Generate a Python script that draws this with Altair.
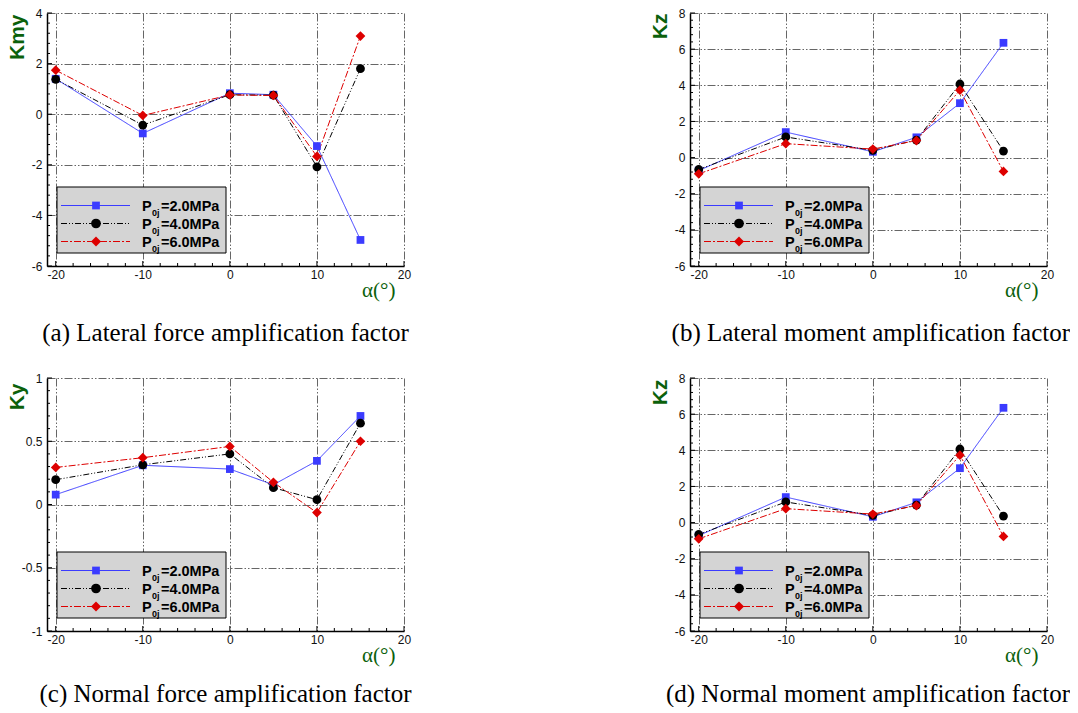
import altair as alt
import numpy as np
import pandas as pd

# Angle of attack (deg) and nozzle pressure cases
alpha = [-20, -10, 0, 5, 10, 15]
series = ["2.0MPa", "4.0MPa", "6.0MPa"]

# Lateral force amplification factor Kmy
kmy_p2 = [1.40, -0.76, 0.83, 0.77, -1.26, -4.97]
kmy_p4 = [1.38, -0.43, 0.77, 0.75, -2.08, 1.80]
kmy_p6 = [1.74, -0.05, 0.76, 0.74, -1.67, 3.09]

# Moment amplification factor Kz
kz_p2 = [-0.72, 1.41, 0.32, 1.12, 3.01, 6.35]
kz_p4 = [-0.66, 1.14, 0.40, 0.97, 4.07, 0.36]
kz_p6 = [-0.90, 0.77, 0.47, 0.94, 3.73, -0.77]

# Normal force amplification factor Ky
ky_p2 = [0.078, 0.31, 0.28, 0.156, 0.345, 0.70]
ky_p4 = [0.196, 0.314, 0.40, 0.133, 0.038, 0.643]
ky_p6 = [0.293, 0.37, 0.459, 0.175, -0.064, 0.50]

x_major = [-20, -10, 0, 10, 20]
kmy_major = [-6, -4, -2, 0, 2, 4]
kz_major = [-6, -4, -2, 0, 2, 4, 6, 8]
ky_major = [-1, -0.5, 0, 0.5, 1]

captions = [
    "(a) Lateral force amplification factor",
    "(b) Lateral moment amplification factor",
    "(c) Normal force amplification factor",
    "(d) Normal moment amplification factor",
]

W, H = 357, 253
GREEN = "#0b610b"
COLORS = ["#3b3bff", "#000000", "#dd0000"]
DASHES = [[1, 0], [6, 2, 1, 2, 1, 2], [7, 2, 2, 2]]
SHAPES = ["square", "circle", "diamond"]
SIZES = [60, 95, 100]
GRID_DASH = [8, 2, 1.5, 2, 1.5, 2]

color_scale = alt.Scale(domain=series, range=COLORS)
dash_scale = alt.Scale(domain=series, range=DASHES)
shape_scale = alt.Scale(domain=series, range=SHAPES)
size_scale = alt.Scale(domain=series, range=SIZES)


def minors(major, n=4):
    out = []
    for a, b in zip(major[:-1], major[1:]):
        out += list(np.linspace(a, b, n + 2)[1:-1])
    return out


def panel(cols, y_title, y_dom, y_major, caption, cap_x, cap_align, cap_dy, ttl_y):
    rows = []
    for name, vals in zip(series, cols):
        for a, v in zip(alpha, vals):
            rows.append({"alpha": a, "value": v, "P": name})
    df = pd.DataFrame(rows)

    xs = alt.Scale(domain=[-21, 20], nice=False, zero=False)
    ys = alt.Scale(domain=y_dom, nice=False, zero=False)

    x_axis = alt.Axis(
        values=x_major, labelExpr="datum.value + ''", labelFlush=False,
        grid=True, gridColor="#666666", gridDash=GRID_DASH, gridWidth=1,
        ticks=False, domainColor="black", domainWidth=1.5,
        labelFont="Liberation Sans", labelFontSize=12, labelColor="#111",
        labelPadding=3,
        title="α(°)", titleFont="Liberation Serif", titleFontSize=21,
        titleFontWeight="normal", titleColor=GREEN, titleX=W - 9, titleY=30,
        titleAlign="right", titleBaseline="alphabetic",
    )
    y_axis = alt.Axis(
        values=y_major, labelExpr="datum.value + ''", labelFlush=False,
        grid=True, gridColor="#666666", gridDash=GRID_DASH, gridWidth=1,
        ticks=False, domainColor="black", domainWidth=1.5,
        labelFont="Liberation Sans", labelFontSize=12, labelColor="#111",
        labelPadding=5,
        title=y_title, titleFont="Liberation Sans", titleFontSize=21,
        titleFontWeight="bold", titleColor=GREEN, titleAngle=270,
        titleX=-24, titleY=ttl_y, titleAlign="right", titleBaseline="alphabetic",
    )

    base = alt.Chart(df)
    lines = base.mark_line(strokeWidth=1).encode(
        x=alt.X("alpha:Q", scale=xs, axis=x_axis),
        y=alt.Y("value:Q", scale=ys, axis=y_axis),
        color=alt.Color("P:N", scale=color_scale, legend=None),
        strokeDash=alt.StrokeDash("P:N", scale=dash_scale, legend=None),
        detail="P:N",
    )
    pts = base.mark_point(filled=True, opacity=1, strokeWidth=0).encode(
        x=alt.X("alpha:Q", scale=xs, axis=x_axis),
        y=alt.Y("value:Q", scale=ys, axis=y_axis),
        color=alt.Color("P:N", scale=color_scale, legend=None),
        shape=alt.Shape("P:N", scale=shape_scale, legend=None),
        size=alt.Size("P:N", scale=size_scale, legend=None),
    )

    # inward tick marks
    layers = [lines, pts]
    for vals, ln in ((x_major, 5), (minors(x_major), 3)):
        layers.append(
            alt.Chart(pd.DataFrame({"v": vals})).mark_rule(color="black", strokeWidth=1).encode(
                x=alt.X("v:Q", scale=xs, axis=x_axis),
                y=alt.value(H), y2=alt.value(H - ln),
            )
        )
    for vals, ln in ((y_major, 5), (minors(y_major), 3)):
        layers.append(
            alt.Chart(pd.DataFrame({"v": vals})).mark_rule(color="black", strokeWidth=1).encode(
                y=alt.Y("v:Q", scale=ys, axis=y_axis),
                x=alt.value(0), x2=alt.value(ln),
            )
        )

    one = pd.DataFrame({"k": [0]})
    # legend box
    layers.append(
        alt.Chart(one).mark_rect(fill="#d4d4d4", stroke="black", strokeWidth=1).encode(
            x=alt.value(10), x2=alt.value(179), y=alt.value(174), y2=alt.value(240)
        )
    )
    row_y = [192.5, 210.5, 228.5]
    for i, name in enumerate(series):
        ly = row_y[i]
        layers.append(
            alt.Chart(one).mark_rule(color=COLORS[i], strokeWidth=1, strokeDash=DASHES[i]).encode(
                x=alt.value(14), x2=alt.value(83), y=alt.value(ly)
            )
        )
        layers.append(
            alt.Chart(one).mark_point(
                filled=True, opacity=1, strokeWidth=0, color=COLORS[i],
                shape=SHAPES[i], size=SIZES[i],
            ).encode(x=alt.value(49), y=alt.value(ly))
        )
        bl = ly + 5.5
        layers.append(
            alt.Chart(one).mark_text(
                font="Liberation Sans", fontWeight="bold", fontSize=14.5,
                align="left", baseline="alphabetic", color="black",
            ).encode(x=alt.value(95), y=alt.value(bl), text=alt.value("P"))
        )
        layers.append(
            alt.Chart(one).mark_text(
                font="Liberation Sans", fontWeight="bold", fontSize=9,
                align="left", baseline="alphabetic", color="black",
            ).encode(x=alt.value(105), y=alt.value(bl + 5), text=alt.value("0j"))
        )
        layers.append(
            alt.Chart(one).mark_text(
                font="Liberation Sans", fontWeight="bold", fontSize=14.5,
                align="left", baseline="alphabetic", color="black",
            ).encode(x=alt.value(114), y=alt.value(bl), text=alt.value("=" + name))
        )

    # sub-figure caption
    layers.append(
        alt.Chart(one).mark_text(
            font="Liberation Serif", fontSize=25, align=cap_align,
            baseline="alphabetic", color="black",
        ).encode(x=alt.value(cap_x), y=alt.value(H + cap_dy), text=alt.value(caption))
    )

    return alt.layer(*layers).properties(width=W, height=H)


pa = panel([kmy_p2, kmy_p4, kmy_p6], "Kmy", [-6, 4], kmy_major, captions[0], W / 2, "center", 75, 1)
pb = panel([kz_p2, kz_p4, kz_p6], "Kz", [-6, 8], kz_major, captions[1], 380, "right", 75, 0)
pc = panel([ky_p2, ky_p4, ky_p6], "Ky", [-1, 1], ky_major, captions[2], W / 2, "center", 71, 5)
pd_ = panel([kz_p2, kz_p4, kz_p6], "Kz", [-6, 8], kz_major, captions[3], 380, "right", 71, 1)

chart = alt.concat(
    pa, pb, pc, pd_, columns=2, spacing={"row": 112, "column": 286}, bounds="flush"
).properties(
    padding={"left": 6, "top": 7, "right": 0, "bottom": 0},
    background="white",
).configure_view(strokeWidth=0)

chart.save("out.html", embed_options={"renderer": "svg", "actions": False})
